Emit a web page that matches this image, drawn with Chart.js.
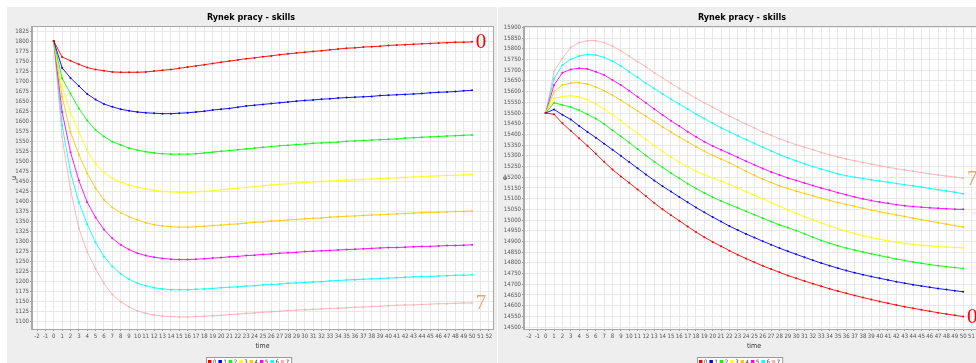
<!DOCTYPE html>
<html>
<head>
<meta charset="utf-8">
<script src="https://cdn.jsdelivr.net/npm/chart.js"></script>
<style>
  html, body { margin: 0; padding: 0; background: #fff; width: 976px; height: 363px; overflow: hidden; }
  canvas { position: absolute; top: 7px; }
  #left { left: 7px; }
  #right { left: 498px; }
</style>
</head>
<body>
<canvas id="left" width="490" height="356"></canvas>
<canvas id="right" width="490" height="356"></canvas>
<script>
// ▼ 데이터
const time = [0,1,2,3,4,5,6,7,8,9,10,11,12,13,14,15,16,17,18,19,20,21,22,23,24,25,26,27,28,29,30,31,32,33,34,35,36,37,38,39,40,41,42,43,44,45,46,47,48,49,50];
const seriesNames = ['0','1','2','3','4','5','6','7'];
const seriesColors = ['#ff0000','#0000ff','#00ff00','#ffff00','#ffc800','#ff00ff','#00ffff','#ffafaf'];

// left chart: u
const u0 = [1800,1760,1751,1742,1734,1729,1726,1723,1722,1722,1722,1723,1725,1727,1729,1732,1735,1738,1741,1744,1747,1750,1753,1756,1758,1761,1763,1766,1768,1770,1772,1774,1776,1778,1780,1782,1783,1785,1786,1787,1789,1790,1791,1792,1793,1794,1795,1796,1797,1797,1798];
const u1 = [1800,1733,1708,1688,1668,1654,1643,1636,1630,1626,1623,1621,1620,1619,1619,1620,1621,1623,1625,1628,1630,1632,1635,1638,1640,1642,1644,1646,1648,1650,1652,1653,1655,1656,1658,1659,1660,1661,1662,1664,1665,1666,1667,1668,1669,1671,1672,1673,1674,1676,1677];
const u2 = [1800,1707,1669,1632,1602,1578,1562,1549,1541,1533,1528,1524,1521,1519,1518,1518,1518,1519,1521,1523,1525,1527,1529,1531,1533,1535,1537,1539,1540,1542,1543,1545,1546,1547,1548,1550,1551,1552,1553,1554,1555,1556,1558,1559,1560,1561,1562,1563,1564,1565,1566];
const u3 = [1800,1686,1622,1574,1527,1494,1472,1458,1448,1441,1436,1431,1428,1425,1424,1423,1423,1424,1425,1427,1429,1431,1433,1435,1437,1439,1441,1443,1444,1446,1447,1449,1450,1451,1452,1453,1454,1455,1456,1457,1458,1459,1460,1461,1462,1463,1464,1465,1465,1466,1467];
const u4 = [1800,1661,1573,1517,1470,1433,1404,1385,1372,1362,1354,1347,1342,1339,1337,1336,1336,1337,1338,1340,1341,1343,1344,1346,1348,1349,1351,1352,1354,1355,1357,1358,1359,1361,1362,1363,1364,1365,1366,1367,1368,1369,1370,1371,1372,1373,1373,1374,1375,1375,1376];
const u5 = [1800,1623,1523,1452,1398,1360,1330,1308,1292,1280,1271,1265,1261,1258,1256,1255,1255,1256,1257,1259,1260,1262,1263,1265,1266,1268,1269,1271,1272,1273,1275,1276,1277,1278,1279,1280,1281,1282,1283,1284,1285,1285,1286,1287,1288,1288,1289,1290,1290,1291,1292];
const u6 = [1800,1590,1473,1398,1343,1298,1263,1238,1220,1206,1196,1190,1185,1182,1180,1180,1180,1181,1182,1183,1185,1186,1187,1189,1190,1192,1193,1194,1196,1197,1198,1199,1200,1202,1203,1204,1205,1206,1207,1208,1209,1210,1211,1212,1213,1213,1214,1215,1216,1216,1217];
const u7 = [1800,1560,1430,1333,1274,1232,1196,1168,1150,1137,1127,1121,1117,1114,1113,1112,1112,1113,1114,1115,1116,1118,1119,1121,1122,1124,1125,1126,1128,1129,1130,1131,1132,1133,1134,1135,1136,1137,1138,1139,1140,1141,1142,1142,1143,1144,1145,1145,1146,1147,1147];

// right chart: e
const e0 = [15500,15494,15452,15417,15382,15347,15310,15272,15236,15204,15174,15143,15112,15080,15050,15023,14997,14970,14944,14920,14898,14878,14857,14838,14820,14803,14786,14771,14756,14741,14728,14715,14703,14691,14679,14668,14658,14648,14638,14629,14620,14611,14603,14595,14588,14581,14574,14567,14561,14555,14549];
const e1 = [15500,15517,15492,15470,15440,15412,15385,15357,15329,15300,15271,15242,15213,15185,15158,15133,15108,15083,15059,15036,15014,14993,14972,14953,14935,14918,14901,14885,14869,14854,14840,14826,14812,14799,14787,14775,14764,14754,14745,14736,14728,14720,14712,14705,14698,14692,14686,14680,14675,14670,14665];
const e2 = [15500,15548,15538,15528,15513,15494,15474,15449,15420,15391,15362,15332,15302,15273,15246,15220,15195,15170,15148,15127,15107,15089,15073,15057,15041,15025,15009,14993,14978,14965,14951,14936,14920,14905,14892,14880,14869,14860,14851,14842,14834,14826,14818,14811,14804,14798,14792,14787,14782,14778,14774];
const e3 = [15500,15569,15577,15581,15576,15562,15543,15519,15493,15464,15434,15405,15376,15348,15321,15295,15271,15249,15228,15212,15197,15183,15167,15150,15133,15116,15099,15082,15065,15048,15032,15016,15001,14987,14973,14960,14948,14937,14927,14918,14910,14903,14897,14891,14886,14882,14879,14876,14874,14872,14870];
const e4 = [15500,15600,15631,15640,15642,15636,15622,15604,15583,15560,15535,15510,15485,15460,15435,15411,15388,15365,15343,15322,15302,15285,15268,15248,15228,15209,15191,15175,15160,15147,15135,15124,15113,15102,15092,15082,15073,15064,15055,15047,15039,15031,15024,15017,15009,15002,14995,14988,14981,14974,14967];
const e5 = [15500,15631,15688,15704,15709,15706,15693,15678,15654,15631,15604,15576,15548,15519,15491,15464,15439,15413,15389,15366,15346,15328,15311,15293,15275,15258,15241,15225,15211,15197,15185,15173,15161,15150,15139,15128,15118,15108,15099,15091,15084,15078,15072,15067,15063,15060,15057,15055,15053,15051,15050];
const e6 = [15500,15661,15724,15751,15766,15774,15771,15760,15743,15720,15693,15667,15639,15615,15589,15565,15542,15519,15495,15475,15452,15431,15413,15394,15376,15358,15340,15323,15306,15291,15277,15263,15250,15238,15227,15216,15207,15200,15194,15188,15182,15177,15171,15165,15160,15154,15148,15142,15136,15130,15123];
const e7 = [15500,15694,15756,15806,15829,15838,15838,15829,15813,15791,15766,15740,15716,15688,15665,15639,15615,15592,15569,15548,15527,15506,15486,15467,15448,15430,15412,15396,15380,15366,15352,15340,15328,15316,15305,15295,15285,15277,15269,15261,15254,15247,15240,15234,15228,15222,15216,15211,15206,15201,15196];

const uSeries = [u0, u1, u2, u3, u4, u5, u6, u7];
const eSeries = [e0, e1, e2, e3, e4, e5, e6, e7];

// ▼ 끝 라벨 (0 / 7)
const endMarks = [
  { ds: 0, text: '0', color: '#ff0000' },
  { ds: 7, text: '7', color: '#f4a460' }
];

const narrow = "'Liberation Sans Narrow', 'DejaVu Sans Condensed', 'Liberation Sans', sans-serif";

// ▼ 배경, 테두리, 범례, 끝 라벨
const panelPlugin = {
  id: 'panelPlugin',
  beforeDraw(chart) {
    const { ctx, chartArea: a, width, height } = chart;
    ctx.save();
    ctx.fillStyle = '#eeeeee';
    ctx.fillRect(0, 0, width, height);
    ctx.fillStyle = '#ffffff';
    ctx.fillRect(a.left, a.top, a.right - a.left, a.bottom - a.top);
    ctx.restore();
  },
  afterDatasetsDraw(chart) {
    const ctx = chart.ctx;
    ctx.save();
    ctx.font = '21px "Liberation Serif", serif';
    ctx.textAlign = 'center';
    ctx.textBaseline = 'middle';
    endMarks.forEach(m => {
      const pts = chart.getDatasetMeta(m.ds).data;
      const p = pts[pts.length - 1];
      ctx.fillStyle = m.color;
      ctx.fillText(m.text, p.x + 9, p.y + 1);
    });
    ctx.restore();
  },
  afterDraw(chart) {
    const { ctx, chartArea: a, width } = chart;
    ctx.save();
    ctx.strokeStyle = '#a8a8a8';
    ctx.lineWidth = 1;
    ctx.strokeRect(a.left - 0.5, a.top - 0.5, a.right - a.left + 1, a.bottom - a.top + 1);

    // legend
    const step = 10.4;
    const w = step * seriesNames.length + 2;
    const x0 = Math.round(width / 2 - w / 2 - 3);
    const top = 350;
    ctx.fillStyle = '#ffffff';
    ctx.fillRect(x0, top, w, 10);
    ctx.strokeStyle = '#999999';
    ctx.strokeRect(x0 + 0.5, top + 0.5, w, 10);
    ctx.font = '6px ' + narrow;
    ctx.textBaseline = 'middle';
    ctx.textAlign = 'left';
    seriesNames.forEach((n, i) => {
      const x = x0 + 2 + i * step;
      ctx.fillStyle = seriesColors[i];
      ctx.fillRect(x, top + 3, 3.5, 4);
      ctx.fillStyle = '#333333';
      ctx.fillText(n, x + 5, top + 5.2);
    });
    ctx.restore();
  }
};

function makeChart(id, series, yMin, yMax, yStep, yTitle) {
  const tickFont = { family: narrow, size: 6 };
  const ctx = document.getElementById(id).getContext('2d');
  return new Chart(ctx, {
    type: 'line',
    data: {
      datasets: series.map((vals, i) => ({
        label: seriesNames[i],
        data: time.map((t, k) => ({ x: t, y: vals[k] })),
        borderColor: seriesColors[i],
        backgroundColor: seriesColors[i],
        borderWidth: 0.9,
        pointRadius: 1,
        pointBorderWidth: 0,
        tension: 0,
        fill: false
      }))
    },
    options: {
      responsive: false,
      devicePixelRatio: 1,
      animation: false,
      layout: { padding: { left: 0, right: 2, top: 0, bottom: 0 } },
      plugins: {
        legend: { display: false },
        tooltip: { enabled: false },
        title: {
          display: true,
          text: 'Rynek pracy - skills',
          color: '#000',
          font: { family: narrow, size: 9, weight: 'bold' },
          padding: { top: 5, bottom: 4.2 }
        }
      },
      scales: {
        x: {
          type: 'linear',
          min: -2.6,
          max: 52.5,
          afterFit(s) { s.height = 34; },
          ticks: { stepSize: 1, autoSkip: false, maxRotation: 0, includeBounds: false, padding: 2, font: tickFont, color: '#555', callback: v => String(v) },
          grid: { color: '#e8e8e8', tickLength: 2, tickColor: '#999' },
          border: { color: '#a8a8a8' },
          title: { display: true, text: 'time', color: '#333', font: { family: narrow, size: 7 }, padding: { top: 0, bottom: 12.8 } }
        },
        y: {
          min: yMin,
          max: yMax,
          afterFit(s) { s.width = id === 'left' ? 25 : 26; },
          ticks: { stepSize: yStep, autoSkip: false, includeBounds: false, padding: 1, font: tickFont, color: '#555', callback: v => String(v) },
          grid: { color: '#e8e8e8', tickLength: 2, tickColor: '#999' },
          border: { color: '#a8a8a8' },
          title: { display: true, text: yTitle, color: '#333', font: { family: narrow, size: 7 }, padding: { top: 3, bottom: 0 } }
        }
      }
    },
    plugins: [panelPlugin]
  });
}

makeChart('left', uSeries, 1082, 1835, 25, 'u');
makeChart('right', eSeries, 14491, 15902, 50, 'e');
</script>
</body>
</html>
